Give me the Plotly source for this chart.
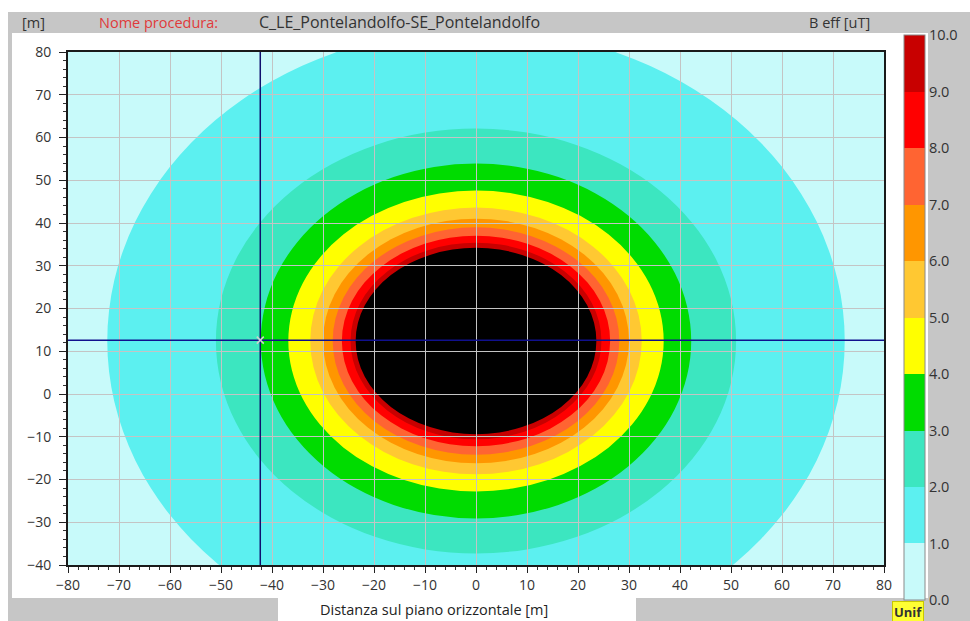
import plotly.graph_objects as go

W, H = 970, 621

# ---- data ----
levels = [1, 2, 3, 4, 5, 6, 7, 8, 9, 10]                 # B eff [uT] contour levels
semi_x = [72.3, 51.0, 42.2, 36.8, 32.5, 30.0, 28.1, 26.3, 24.6, 23.6]   # half width (m)
semi_y = [73.0, 49.7, 41.5, 35.2, 31.2, 28.6, 26.6, 24.6, 23.0, 21.8]   # half height (m)
center_x = 0.0
center_y = 12.4
band_colors = ["#c8fafa", "#5cf0f0", "#3ce6c0", "#00dc00", "#ffff00",
               "#ffc832", "#ff9600", "#ff6432", "#ff0000", "#c80000", "#000000"]
cbar_ticks = [0, 1, 2, 3, 4, 5, 6, 7, 8, 9, 10]
cbar_labels = ["0.0", "1.0", "2.0", "3.0", "4.0", "5.0", "6.0", "7.0", "8.0", "9.0", "10.0"]
cursor_x = -42.3
cursor_y = 12.6
x_range = [-80, 80]
y_range = [-40, 80]

def px(xp):
    return xp / W

def py(yp):
    return 1 - yp / H

fig = go.Figure()

# crosshair lines
fig.add_trace(go.Scatter(x=[cursor_x, cursor_x], y=y_range, mode="lines",
                         line=dict(color="#10106e", width=1.5), hoverinfo="skip", showlegend=False))
fig.add_trace(go.Scatter(x=x_range, y=[cursor_y, cursor_y], mode="lines",
                         line=dict(color="#10108e", width=1.5), hoverinfo="skip", showlegend=False))
fig.add_trace(go.Scatter(x=[cursor_x], y=[cursor_y], mode="markers",
                         marker=dict(symbol="x-thin-open", size=7, color="#d0d0d0",
                                     line=dict(width=1.5, color="#d0d0d0")),
                         hoverinfo="skip", showlegend=False))

# discrete colour scale for the colorbar
cs = []
for i in range(10):
    cs.append([i / 10, band_colors[i]])
    cs.append([(i + 1) / 10, band_colors[i]])
fig.add_trace(go.Scatter(x=[None], y=[None], mode="markers", showlegend=False, hoverinfo="skip",
                         marker=dict(color=[0], cmin=0, cmax=10, colorscale=cs, showscale=True,
                                     colorbar=dict(x=px(904), xanchor="left", y=py(35), yanchor="top",
                                                   len=(600 - 35) / H, lenmode="fraction",
                                                   thickness=21, thicknessmode="pixels",
                                                   outlinecolor="#8a8a8a", outlinewidth=1,
                                                   tickvals=cbar_ticks, ticktext=cbar_labels,
                                                   ticks="", ticklabelposition="outside",
                                                   tickfont=dict(family="Open Sans", size=14.5, color="#333333"),
                                                   xpad=0, ypad=0, bgcolor="rgba(0,0,0,0)", borderwidth=0))))

shapes = []
grey = "#c6c6c6"
def rect(x0, y0, x1, y1, color):
    shapes.append(dict(type="rect", xref="paper", yref="paper", x0=px(x0), x1=px(x1),
                       y0=py(y1), y1=py(y0), fillcolor=color, line=dict(width=0), layer="below"))
rect(8, 12, 970, 33, grey)        # title band
rect(928, 12, 970, 621, grey)     # colorbar label band
rect(8, 12, 12, 621, grey)        # left strip
rect(8, 598, 278, 621, grey)      # bottom left
rect(636, 598, 970, 621, grey)    # bottom right

# filled contour regions (nested ellipses from the measured semi-axes)
for i, lv in enumerate(levels):
    shapes.append(dict(type="circle", xref="x", yref="y",
                       x0=center_x - semi_x[i], x1=center_x + semi_x[i],
                       y0=center_y - semi_y[i], y1=center_y + semi_y[i],
                       fillcolor=band_colors[i + 1], line=dict(width=0), layer="below"))

font_fam = "Open Sans"
annotations = [
    dict(text="[m]", x=px(20), y=py(22), xanchor="left", yanchor="middle",
         font=dict(family=font_fam, size=14.5, color="#333333")),
    dict(text="Nome procedura:", x=px(97), y=py(22), xanchor="left", yanchor="middle",
         font=dict(family=font_fam, size=14.5, color="#e03a3a")),
    dict(text="C_LE_Pontelandolfo-SE_Pontelandolfo", x=px(257), y=py(22), xanchor="left", yanchor="middle",
         font=dict(family=font_fam, size=16, color="#333333")),
    dict(text="B eff [uT]", x=px(807), y=py(22), xanchor="left", yanchor="middle",
         font=dict(family=font_fam, size=14.5, color="#333333")),
    dict(text="Distanza sul piano orizzontale [m]", x=px(434), y=py(609), xanchor="center", yanchor="middle",
         font=dict(family=font_fam, size=14.5, color="#222222")),
    dict(text="<b>Unif</b>", x=px(908), y=py(601), xanchor="center", yanchor="top",
         font=dict(family=font_fam, size=13, color="#333333"), bgcolor="#ffff33",
         bordercolor="#c8c800", borderwidth=1, borderpad=1),
]
for a in annotations:
    a.update(xref="paper", yref="paper", showarrow=False)

axis_common = dict(showgrid=True, gridcolor="#c4c4c4", gridwidth=1, zeroline=False,
                   showline=True, linecolor="#1a1a1a", linewidth=2, mirror=True,
                   ticks="outside", tickcolor="#222222", tickwidth=1, automargin=False,
                   tickfont=dict(family=font_fam, size=14, color="#333333"),
                   minor=dict(ticks="outside", dtick=2, ticklen=3, tickcolor="#333333", showgrid=False))

fig.update_layout(
    width=W, height=H, margin=dict(l=0, r=0, t=0, b=0, autoexpand=False),
    paper_bgcolor="white", plot_bgcolor=band_colors[0],
    showlegend=False,
    xaxis=dict(range=x_range, dtick=10, tick0=-80, ticklen=6, domain=[px(68), px(884)], **axis_common),
    yaxis=dict(range=y_range, dtick=10, tick0=-40, ticklen=7, ticklabelstandoff=5,
               domain=[py(565), py(52)], **axis_common),
    shapes=shapes, annotations=annotations,
)

fig.write_html("out.html", config={"displayModeBar": False},
               post_script="document.body.style.margin='0';")
